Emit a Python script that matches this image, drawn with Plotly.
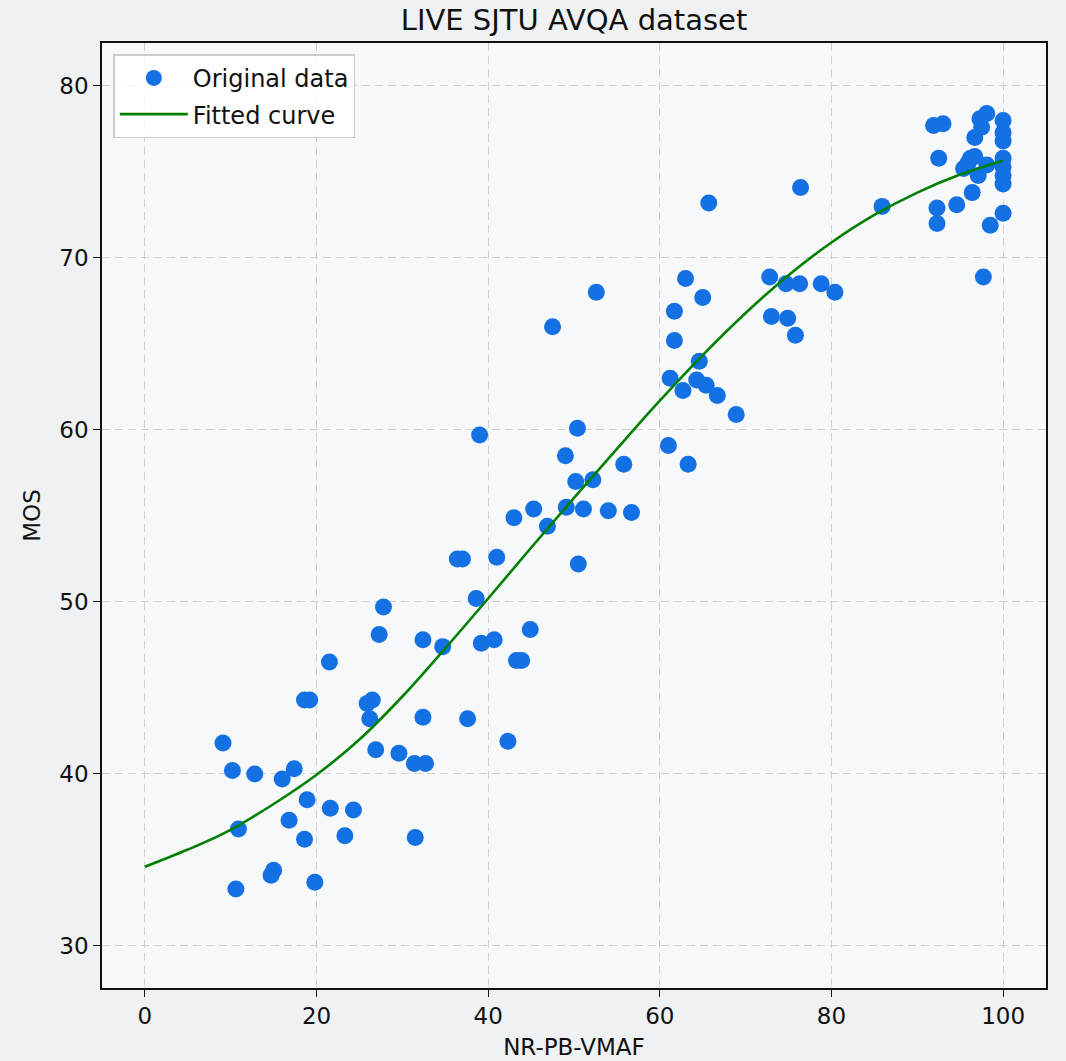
import plotly.graph_objects as go

# Scatter data (NR-PB-VMAF score, MOS)
vmaf = [9.1, 10.2, 10.9, 10.6, 12.8, 14.7, 15.0, 16.0, 16.8, 17.4, 18.6, 18.9, 18.6, 19.2, 19.8,
        21.5, 21.6, 23.3, 24.3, 25.9, 26.2, 26.5, 26.9, 27.3, 27.8, 29.6, 31.5, 31.4, 32.7, 32.4,
        32.4, 34.7, 36.4, 37.0, 37.6, 38.6, 39.0, 39.2, 40.7, 41.0, 42.3, 43.0, 43.3, 43.9, 44.9,
        45.3, 46.9, 47.5, 49.0, 49.1, 50.2, 50.4, 50.5, 51.1, 52.2, 52.6, 54.0, 55.8, 56.7,
        61.0, 61.2, 61.7, 61.7, 62.7, 63.0, 63.3, 64.3, 64.6, 65.0, 65.4, 65.7, 66.7, 68.9,
        72.8, 73.0, 74.7, 74.9, 75.8, 76.3, 76.4, 78.8, 80.4, 85.9,
        91.9, 93.0, 92.5, 92.3, 92.3, 94.6, 96.4, 95.4, 96.2, 96.7, 98.1, 97.1, 95.9, 96.7,
        97.5, 98.1, 97.3, 100.0, 100.0, 100.0, 100.0, 100.0, 100.0, 100.0, 100.0, 98.5, 97.7]
mos = [41.8, 40.2, 36.8, 33.3, 40.0, 34.1, 34.4, 39.7, 37.3, 40.3, 36.2, 38.5, 44.3, 44.3, 33.7,
       46.5, 38.0, 36.4, 37.9, 44.1, 43.2, 44.3, 41.4, 48.1, 49.7, 41.2, 36.3, 40.6, 40.6, 43.3,
       47.8, 47.4, 52.5, 52.5, 43.2, 50.2, 59.7, 47.6, 47.8, 52.6, 41.9, 54.9, 46.6, 46.6, 48.4,
       55.4, 54.4, 66.0, 58.5, 55.5, 57.0, 60.1, 52.2, 55.4, 57.1, 68.0, 55.3, 58.0, 55.2,
       59.1, 63.0, 65.2, 66.9, 62.3, 68.8, 58.0, 62.9, 64.0, 67.7, 62.6, 73.2, 62.0, 60.9,
       68.9, 66.6, 68.5, 66.5, 65.5, 68.5, 74.1, 68.5, 68.0, 73.0,
       77.7, 77.8, 75.8, 72.9, 72.0, 73.1, 73.8, 75.2, 75.8, 75.9, 75.4, 74.8, 75.5, 77.0,
       77.6, 78.4, 78.1, 78.0, 77.3, 76.8, 75.8, 75.3, 74.8, 74.3, 72.6, 71.9, 68.9]

# Fitted curve (every 5 units)
curve_x = [0, 5, 10, 15, 20, 25, 30, 35, 40, 45, 50, 55, 60, 65, 70, 75, 80, 85, 90, 95, 100]
curve_y = [34.6, 35.6, 36.75, 38.25, 39.95, 42.0, 44.5, 47.3, 50.2, 53.15, 56.05, 58.9, 61.7,
           64.35, 66.8, 69.0, 70.9, 72.5, 73.8, 74.85, 75.65]

x_ticks = [0, 20, 40, 60, 80, 100]
y_ticks = [30, 40, 50, 60, 70, 80]

FONT = "DejaVu Sans"

fig = go.Figure()
fig.add_trace(go.Scatter(
    x=vmaf, y=mos, mode="markers", name="Original data", legendgroup="a",
    marker=dict(size=17, color="#1471e3", line=dict(width=0)),
))
fig.add_trace(go.Scatter(
    x=curve_x, y=curve_y, mode="lines", name="Fitted curve", legendgroup="b",
    line=dict(color="#008000", width=2.6, shape="spline", smoothing=1.0),
))

axis_common = dict(
    showline=True, mirror=True, linecolor="#111111", linewidth=1.6,
    ticks="outside", ticklen=7, tickwidth=1.2, tickcolor="#111111",
    showgrid=True, gridcolor="#cfd0d2", griddash="8px,5px", gridwidth=1.3,
    zeroline=False, tickfont=dict(family=FONT, size=23, color="#111111"),
)

fig.update_layout(
    width=1066, height=1061,
    margin=dict(l=102, r=20, t=43, b=73, autoexpand=False),
    paper_bgcolor="#eff1f3",
    plot_bgcolor="#f7f8f9",
    font=dict(family=FONT, color="#111111"),
    title=dict(text="LIVE SJTU AVQA dataset", x=0.5385, xanchor="center", y=0.981, yanchor="middle",
               font=dict(family=FONT, size=29, color="#111111")),
    xaxis=dict(range=[-5, 105], tickvals=x_ticks, automargin=False,
               title=dict(text="NR-PB-VMAF", standoff=10, font=dict(family=FONT, size=23)),
               **axis_common),
    yaxis=dict(range=[27.55, 82.5], tickvals=y_ticks, automargin=False,
               title=dict(text="MOS", standoff=12, font=dict(family=FONT, size=23)),
               **axis_common),
    legend=dict(x=0.012, y=0.988, xanchor="left", yanchor="top",
                bgcolor="rgba(255,255,255,0.85)", bordercolor="#cccccc", borderwidth=1.5,
                font=dict(family=FONT, size=24, color="#111111"), tracegroupgap=2,
                itemwidth=68, traceorder="grouped"),
    showlegend=True,
)

fig.write_html("out.html")
